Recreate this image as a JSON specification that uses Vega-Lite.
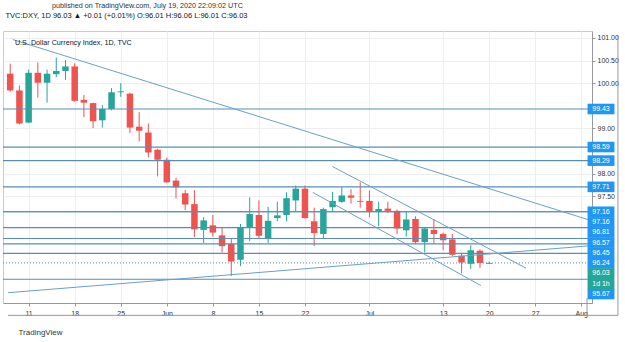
{
  "$schema": "https://vega.github.io/schema/vega-lite/v6.json",
  "width": 589,
  "height": 272,
  "autosize": {"type": "none"},
  "padding": {"left": 3, "top": 31, "right": 33, "bottom": 39},
  "background": "white",
  "config": {
    "font": "Liberation Sans",
    "view": {"stroke": "#c8cbd2", "strokeWidth": 1}
  },
  "title": {
    "text": "published on TradingView.com, July 19, 2020 22:09:02 UTC",
    "anchor": "start",
    "frame": "group",
    "dx": 49,
    "offset": 2,
    "fontSize": 7.2,
    "fontWeight": "normal",
    "color": "#333333"
  },
  "datasets": {
    "candles": [
      {"date": "2020-05-07", "bar": -2, "o": 100.21, "h": 100.43, "l": 99.81, "c": 99.84},
      {"date": "2020-05-08", "bar": -1, "o": 99.84, "h": 99.95, "l": 99.09, "c": 99.11},
      {"date": "2020-05-11", "bar": 0, "o": 99.13, "h": 100.30, "l": 99.12, "c": 100.23},
      {"date": "2020-05-12", "bar": 1, "o": 100.23, "h": 100.46, "l": 99.68, "c": 100.01},
      {"date": "2020-05-13", "bar": 2, "o": 100.01, "h": 100.30, "l": 99.57, "c": 100.21},
      {"date": "2020-05-14", "bar": 3, "o": 100.20, "h": 100.57, "l": 100.13, "c": 100.27},
      {"date": "2020-05-15", "bar": 4, "o": 100.27, "h": 100.51, "l": 100.07, "c": 100.37},
      {"date": "2020-05-18", "bar": 5, "o": 100.37, "h": 100.44, "l": 99.59, "c": 99.61},
      {"date": "2020-05-19", "bar": 6, "o": 99.63, "h": 99.74, "l": 99.25, "c": 99.57},
      {"date": "2020-05-20", "bar": 7, "o": 99.56, "h": 99.57, "l": 99.01, "c": 99.16},
      {"date": "2020-05-21", "bar": 8, "o": 99.18, "h": 99.52, "l": 99.02, "c": 99.43},
      {"date": "2020-05-22", "bar": 9, "o": 99.43, "h": 99.89, "l": 99.40, "c": 99.80},
      {"date": "2020-05-25", "bar": 10, "o": 99.80, "h": 100.00, "l": 99.70, "c": 99.82},
      {"date": "2020-05-26", "bar": 11, "o": 99.77, "h": 99.79, "l": 98.90, "c": 99.02},
      {"date": "2020-05-27", "bar": 12, "o": 99.04, "h": 99.36, "l": 98.71, "c": 98.95},
      {"date": "2020-05-28", "bar": 13, "o": 98.91, "h": 99.11, "l": 98.36, "c": 98.47},
      {"date": "2020-05-29", "bar": 14, "o": 98.53, "h": 98.55, "l": 97.94, "c": 98.31},
      {"date": "2020-06-01", "bar": 15, "o": 98.31, "h": 98.36, "l": 97.80, "c": 97.81},
      {"date": "2020-06-02", "bar": 16, "o": 97.85, "h": 97.91, "l": 97.45, "c": 97.70},
      {"date": "2020-06-03", "bar": 17, "o": 97.57, "h": 97.64, "l": 97.20, "c": 97.32},
      {"date": "2020-06-04", "bar": 18, "o": 97.33, "h": 97.64, "l": 96.60, "c": 96.77},
      {"date": "2020-06-05", "bar": 19, "o": 96.76, "h": 97.04, "l": 96.47, "c": 96.97},
      {"date": "2020-06-08", "bar": 20, "o": 96.86, "h": 97.09, "l": 96.61, "c": 96.70},
      {"date": "2020-06-09", "bar": 21, "o": 96.64, "h": 96.82, "l": 96.26, "c": 96.40},
      {"date": "2020-06-10", "bar": 22, "o": 96.45, "h": 96.58, "l": 95.74, "c": 96.06},
      {"date": "2020-06-11", "bar": 23, "o": 96.10, "h": 96.89, "l": 95.96, "c": 96.81},
      {"date": "2020-06-12", "bar": 24, "o": 96.82, "h": 97.48, "l": 96.51, "c": 97.11},
      {"date": "2020-06-15", "bar": 25, "o": 97.09, "h": 97.41, "l": 96.56, "c": 96.63},
      {"date": "2020-06-16", "bar": 26, "o": 96.57, "h": 97.27, "l": 96.47, "c": 96.96},
      {"date": "2020-06-17", "bar": 27, "o": 97.02, "h": 97.38, "l": 96.95, "c": 97.08},
      {"date": "2020-06-18", "bar": 28, "o": 97.09, "h": 97.59, "l": 96.95, "c": 97.46},
      {"date": "2020-06-19", "bar": 29, "o": 97.41, "h": 97.74, "l": 97.16, "c": 97.67},
      {"date": "2020-06-22", "bar": 30, "o": 97.67, "h": 97.74, "l": 97.01, "c": 97.02},
      {"date": "2020-06-23", "bar": 31, "o": 96.95, "h": 97.25, "l": 96.40, "c": 96.69},
      {"date": "2020-06-24", "bar": 32, "o": 96.67, "h": 97.25, "l": 96.56, "c": 97.22},
      {"date": "2020-06-25", "bar": 33, "o": 97.26, "h": 97.60, "l": 97.16, "c": 97.40},
      {"date": "2020-06-26", "bar": 34, "o": 97.38, "h": 97.70, "l": 97.36, "c": 97.52},
      {"date": "2020-06-29", "bar": 35, "o": 97.52, "h": 97.66, "l": 97.34, "c": 97.47},
      {"date": "2020-06-30", "bar": 36, "o": 97.40, "h": 97.81, "l": 97.25, "c": 97.38},
      {"date": "2020-07-01", "bar": 37, "o": 97.40, "h": 97.63, "l": 97.04, "c": 97.16},
      {"date": "2020-07-02", "bar": 38, "o": 97.16, "h": 97.38, "l": 96.84, "c": 97.22},
      {"date": "2020-07-03", "bar": 39, "o": 97.23, "h": 97.38, "l": 97.13, "c": 97.18},
      {"date": "2020-07-06", "bar": 40, "o": 97.18, "h": 97.21, "l": 96.67, "c": 96.79},
      {"date": "2020-07-07", "bar": 41, "o": 96.75, "h": 97.16, "l": 96.61, "c": 96.99},
      {"date": "2020-07-08", "bar": 42, "o": 97.00, "h": 97.06, "l": 96.45, "c": 96.49},
      {"date": "2020-07-09", "bar": 43, "o": 96.49, "h": 96.81, "l": 96.26, "c": 96.79},
      {"date": "2020-07-10", "bar": 44, "o": 96.76, "h": 96.99, "l": 96.45, "c": 96.67},
      {"date": "2020-07-13", "bar": 45, "o": 96.67, "h": 96.70, "l": 96.31, "c": 96.53},
      {"date": "2020-07-14", "bar": 46, "o": 96.55, "h": 96.67, "l": 96.18, "c": 96.21},
      {"date": "2020-07-15", "bar": 47, "o": 96.19, "h": 96.24, "l": 95.80, "c": 96.04},
      {"date": "2020-07-16", "bar": 48, "o": 96.01, "h": 96.42, "l": 95.90, "c": 96.31},
      {"date": "2020-07-17", "bar": 49, "o": 96.30, "h": 96.33, "l": 95.92, "c": 96.03},
      {"date": "2020-07-20", "bar": 50, "o": 96.01, "h": 96.06, "l": 96.01, "c": 96.03}
    ],
    "levels": [
      {"id": 1, "price": 99.43}, {"id": 2, "price": 98.59}, {"id": 3, "price": 98.29},
      {"id": 4, "price": 97.71}, {"id": 5, "price": 97.16}, {"id": 6, "price": 97.16},
      {"id": 7, "price": 96.81}, {"id": 8, "price": 96.57}, {"id": 9, "price": 96.45},
      {"id": 10, "price": 96.24}, {"id": 11, "price": 95.67}
    ],
    "last": [{"price": 96.03, "countdown": "1d 1h"}],
    "trends": [
      {"line": "A", "bar": -1.71, "price": 100.964},
      {"line": "A", "bar": 62, "price": 96.906},
      {"line": "B", "bar": -2.24, "price": 95.372},
      {"line": "B", "bar": 62, "price": 96.426},
      {"line": "C", "bar": 32.98, "price": 98.16},
      {"line": "C", "bar": 54.0, "price": 95.915},
      {"line": "D", "bar": 30.84, "price": 97.589},
      {"line": "D", "bar": 49.09, "price": 95.532}
    ]
  },
  "layer": [
    {
      "data": {"name": "candles"},
      "mark": {"type": "rule", "strokeWidth": 1},
      "encoding": {
        "x": {
          "field": "bar", "type": "quantitative",
          "scale": {"domain": [-2.24, 60.62], "nice": false, "zero": false},
          "axis": {
            "orient": "bottom",
            "values": [0, 5, 10, 15, 20, 25, 30, 37, 45, 50, 55, 60],
            "labelExpr": "['11','18','25','Jun','8','15','22','Jul','13','20','27','Aug'][indexof([0,5,10,15,20,25,30,37,45,50,55,60], datum.value)]",
            "labelFontSize": 7, "labelColor": "#333333", "labelPadding": 3,
            "labelOverlap": false, "labelFlush": false,
            "tickSize": 3, "tickColor": "#9598a1", "domainColor": "#9598a1",
            "grid": true, "gridColor": "#eceef2",
            "title": "TradingView", "titleFontSize": 8, "titleFontWeight": "normal",
            "titleColor": "#333333", "titleAlign": "left", "titleBaseline": "middle",
            "titleX": 15, "titleY": 29
          }
        },
        "y": {
          "field": "l", "type": "quantitative",
          "scale": {"domain": [95.2553, 101.0426], "nice": false, "zero": false},
          "axis": {
            "orient": "right",
            "values": [97.5, 98, 99, 100, 100.5, 101],
            "format": ".2f",
            "labelFontSize": 7, "labelColor": "#333333", "labelPadding": 2,
            "labelOverlap": false, "labelFlush": false,
            "tickSize": 3, "tickColor": "#9598a1", "domainColor": "#9598a1",
            "grid": true, "gridColor": "#eceef2",
            "title": "TVC:DXY, 1D  96.03 ▲ +0.01 (+0.01%)  O:96.01  H:96.06  L:96.01  C:96.03",
            "titleAngle": 0, "titleX": -587, "titleY": -16,
            "titleAlign": "left", "titleBaseline": "middle",
            "titleFontSize": 7.5, "titleFontWeight": "normal", "titleColor": "#131722"
          }
        },
        "y2": {"field": "h"},
        "color": {"condition": {"test": "datum.c >= datum.o", "value": "#26a69a"}, "value": "#ef5350"}
      }
    },
    {
      "data": {"name": "candles"},
      "mark": {"type": "bar", "size": 6.5},
      "encoding": {
        "x": {"field": "bar", "type": "quantitative", "scale": {"domain": [-2.24, 60.62], "nice": false, "zero": false}},
        "y": {"field": "o", "type": "quantitative", "scale": {"domain": [95.2553, 101.0426], "nice": false, "zero": false}},
        "y2": {"field": "c"},
        "color": {"condition": {"test": "datum.c >= datum.o", "value": "#26a69a"}, "value": "#ef5350"}
      }
    },
    {
      "data": {"name": "levels"},
      "mark": {"type": "rule", "color": "#5b8db3", "strokeWidth": 1.2},
      "encoding": {
        "y": {"field": "price", "type": "quantitative", "scale": {"domain": [95.2553, 101.0426], "nice": false, "zero": false}}
      }
    },
    {
      "data": {"name": "last"},
      "mark": {"type": "rule", "color": "#5f8aa8", "strokeWidth": 1, "strokeDash": [1, 2]},
      "encoding": {
        "y": {"field": "price", "type": "quantitative", "scale": {"domain": [95.2553, 101.0426], "nice": false, "zero": false}}
      }
    },
    {
      "data": {"name": "trends"},
      "mark": {"type": "line", "color": "#6aa0c8", "strokeWidth": 1, "clip": true},
      "encoding": {
        "x": {"field": "bar", "type": "quantitative", "scale": {"domain": [-2.24, 60.62], "nice": false, "zero": false}},
        "y": {"field": "price", "type": "quantitative", "scale": {"domain": [95.2553, 101.0426], "nice": false, "zero": false}},
        "detail": {"field": "line", "type": "nominal"}
      }
    },
    {
      "data": {"name": "levels"},
      "transform": [{"filter": "datum.id <= 5"}],
      "encoding": {
        "y": {"field": "price", "type": "quantitative", "scale": {"domain": [95.2553, 101.0426], "nice": false, "zero": false}}
      },
      "layer": [
        {"mark": {"type": "bar", "orient": "horizontal", "size": 10.6, "color": "#2196f3"},
         "encoding": {"x": {"datum": 60.68, "type": "quantitative", "scale": {"domain": [-2.24, 60.62], "nice": false, "zero": false}}, "x2": {"datum": 63.6}}},
        {"mark": {"type": "text", "color": "white", "fontSize": 7, "align": "center", "baseline": "middle"},
         "encoding": {"x": {"datum": 62.14, "type": "quantitative", "scale": {"domain": [-2.24, 60.62], "nice": false, "zero": false}}, "text": {"field": "price", "type": "quantitative", "format": ".2f"}}}
      ]
    },
    {
      "data": {"name": "levels"},
      "transform": [{"filter": "datum.id == 6"}],
      "encoding": {
        "y": {"field": "price", "type": "quantitative", "scale": {"domain": [95.2553, 101.0426], "nice": false, "zero": false}}
      },
      "layer": [
        {"mark": {"type": "bar", "orient": "horizontal", "size": 10.6, "color": "#2196f3", "yOffset": 10.6},
         "encoding": {"x": {"datum": 60.68, "type": "quantitative", "scale": {"domain": [-2.24, 60.62], "nice": false, "zero": false}}, "x2": {"datum": 63.6}}},
        {"mark": {"type": "text", "color": "white", "fontSize": 7, "align": "center", "baseline": "middle", "yOffset": 10.6},
         "encoding": {"x": {"datum": 62.14, "type": "quantitative", "scale": {"domain": [-2.24, 60.62], "nice": false, "zero": false}}, "text": {"field": "price", "type": "quantitative", "format": ".2f"}}}
      ]
    },
    {
      "data": {"name": "levels"},
      "transform": [{"filter": "datum.id == 7"}],
      "encoding": {
        "y": {"field": "price", "type": "quantitative", "scale": {"domain": [95.2553, 101.0426], "nice": false, "zero": false}}
      },
      "layer": [
        {"mark": {"type": "bar", "orient": "horizontal", "size": 10.6, "color": "#2196f3", "yOffset": 4.8},
         "encoding": {"x": {"datum": 60.68, "type": "quantitative", "scale": {"domain": [-2.24, 60.62], "nice": false, "zero": false}}, "x2": {"datum": 63.6}}},
        {"mark": {"type": "text", "color": "white", "fontSize": 7, "align": "center", "baseline": "middle", "yOffset": 4.8},
         "encoding": {"x": {"datum": 62.14, "type": "quantitative", "scale": {"domain": [-2.24, 60.62], "nice": false, "zero": false}}, "text": {"field": "price", "type": "quantitative", "format": ".2f"}}}
      ]
    },
    {
      "data": {"name": "levels"},
      "transform": [{"filter": "datum.id == 8"}],
      "encoding": {
        "y": {"field": "price", "type": "quantitative", "scale": {"domain": [95.2553, 101.0426], "nice": false, "zero": false}}
      },
      "layer": [
        {"mark": {"type": "bar", "orient": "horizontal", "size": 10.6, "color": "#2196f3", "yOffset": 4.1},
         "encoding": {"x": {"datum": 60.68, "type": "quantitative", "scale": {"domain": [-2.24, 60.62], "nice": false, "zero": false}}, "x2": {"datum": 63.6}}},
        {"mark": {"type": "text", "color": "white", "fontSize": 7, "align": "center", "baseline": "middle", "yOffset": 4.1},
         "encoding": {"x": {"datum": 62.14, "type": "quantitative", "scale": {"domain": [-2.24, 60.62], "nice": false, "zero": false}}, "text": {"field": "price", "type": "quantitative", "format": ".2f"}}}
      ]
    },
    {
      "data": {"name": "levels"},
      "transform": [{"filter": "datum.id == 9"}],
      "encoding": {
        "y": {"field": "price", "type": "quantitative", "scale": {"domain": [95.2553, 101.0426], "nice": false, "zero": false}}
      },
      "layer": [
        {"mark": {"type": "bar", "orient": "horizontal", "size": 10.6, "color": "#2196f3", "yOffset": 9.0},
         "encoding": {"x": {"datum": 60.68, "type": "quantitative", "scale": {"domain": [-2.24, 60.62], "nice": false, "zero": false}}, "x2": {"datum": 63.6}}},
        {"mark": {"type": "text", "color": "white", "fontSize": 7, "align": "center", "baseline": "middle", "yOffset": 9.0},
         "encoding": {"x": {"datum": 62.14, "type": "quantitative", "scale": {"domain": [-2.24, 60.62], "nice": false, "zero": false}}, "text": {"field": "price", "type": "quantitative", "format": ".2f"}}}
      ]
    },
    {
      "data": {"name": "levels"},
      "transform": [{"filter": "datum.id == 10"}],
      "encoding": {
        "y": {"field": "price", "type": "quantitative", "scale": {"domain": [95.2553, 101.0426], "nice": false, "zero": false}}
      },
      "layer": [
        {"mark": {"type": "bar", "orient": "horizontal", "size": 10.6, "color": "#2196f3", "yOffset": 9.8},
         "encoding": {"x": {"datum": 60.68, "type": "quantitative", "scale": {"domain": [-2.24, 60.62], "nice": false, "zero": false}}, "x2": {"datum": 63.6}}},
        {"mark": {"type": "text", "color": "white", "fontSize": 7, "align": "center", "baseline": "middle", "yOffset": 9.8},
         "encoding": {"x": {"datum": 62.14, "type": "quantitative", "scale": {"domain": [-2.24, 60.62], "nice": false, "zero": false}}, "text": {"field": "price", "type": "quantitative", "format": ".2f"}}}
      ]
    },
    {
      "data": {"name": "levels"},
      "transform": [{"filter": "datum.id == 11"}],
      "encoding": {
        "y": {"field": "price", "type": "quantitative", "scale": {"domain": [95.2553, 101.0426], "nice": false, "zero": false}}
      },
      "layer": [
        {"mark": {"type": "bar", "orient": "horizontal", "size": 10.6, "color": "#2196f3", "yOffset": 14.8},
         "encoding": {"x": {"datum": 60.68, "type": "quantitative", "scale": {"domain": [-2.24, 60.62], "nice": false, "zero": false}}, "x2": {"datum": 63.6}}},
        {"mark": {"type": "text", "color": "white", "fontSize": 7, "align": "center", "baseline": "middle", "yOffset": 14.8},
         "encoding": {"x": {"datum": 62.14, "type": "quantitative", "scale": {"domain": [-2.24, 60.62], "nice": false, "zero": false}}, "text": {"field": "price", "type": "quantitative", "format": ".2f"}}}
      ]
    },
    {
      "data": {"name": "last"},
      "encoding": {
        "y": {"field": "price", "type": "quantitative", "scale": {"domain": [95.2553, 101.0426], "nice": false, "zero": false}}
      },
      "layer": [
        {"mark": {"type": "bar", "orient": "horizontal", "size": 21.2, "color": "#26a69a", "yOffset": 15.8},
         "encoding": {"x": {"datum": 60.68, "type": "quantitative", "scale": {"domain": [-2.24, 60.62], "nice": false, "zero": false}}, "x2": {"datum": 63.6}}},
        {"mark": {"type": "text", "color": "white", "fontSize": 7, "align": "center", "baseline": "middle", "yOffset": 10.5},
         "encoding": {"x": {"datum": 62.14, "type": "quantitative", "scale": {"domain": [-2.24, 60.62], "nice": false, "zero": false}}, "text": {"field": "price", "type": "quantitative", "format": ".2f"}}},
        {"mark": {"type": "text", "color": "white", "fontSize": 7, "align": "center", "baseline": "middle", "yOffset": 21.1},
         "encoding": {"x": {"datum": 62.14, "type": "quantitative", "scale": {"domain": [-2.24, 60.62], "nice": false, "zero": false}}, "text": {"field": "countdown", "type": "nominal"}}}
      ]
    },
    {
      "data": {"values": [{"label": "U.S. Dollar Currency Index, 1D, TVC"}]},
      "mark": {"type": "text", "color": "#131722", "fontSize": 7.2, "align": "left", "baseline": "middle"},
      "encoding": {
        "x": {"datum": -1.49, "type": "quantitative", "scale": {"domain": [-2.24, 60.62], "nice": false, "zero": false}},
        "y": {"datum": 100.89, "type": "quantitative", "scale": {"domain": [95.2553, 101.0426], "nice": false, "zero": false}},
        "text": {"field": "label", "type": "nominal"}
      }
    },
    {
      "data": {"values": [{"part": "time pane bottom"}]},
      "mark": {"type": "rule", "color": "#9598a1", "strokeWidth": 1},
      "encoding": {
        "x": {"datum": -2.24, "type": "quantitative", "scale": {"domain": [-2.24, 60.62], "nice": false, "zero": false}},
        "x2": {"datum": 63.98},
        "y": {"datum": 94.872, "type": "quantitative", "scale": {"domain": [95.2553, 101.0426], "nice": false, "zero": false}}
      }
    },
    {
      "data": {"values": [{"part": "right border"}]},
      "mark": {"type": "rule", "color": "#9598a1", "strokeWidth": 1},
      "encoding": {
        "x": {"datum": 63.98, "type": "quantitative", "scale": {"domain": [-2.24, 60.62], "nice": false, "zero": false}},
        "y": {"datum": 101.0426, "type": "quantitative", "scale": {"domain": [95.2553, 101.0426], "nice": false, "zero": false}},
        "y2": {"datum": 94.872}
      }
    },
    {
      "data": {"values": [{"part": "separator"}]},
      "mark": {"type": "rule", "color": "#9598a1", "strokeWidth": 1},
      "encoding": {
        "x": {"datum": 60.62, "type": "quantitative", "scale": {"domain": [-2.24, 60.62], "nice": false, "zero": false}},
        "y": {"datum": 95.2553, "type": "quantitative", "scale": {"domain": [95.2553, 101.0426], "nice": false, "zero": false}},
        "y2": {"datum": 94.872}
      }
    }
  ]
}
